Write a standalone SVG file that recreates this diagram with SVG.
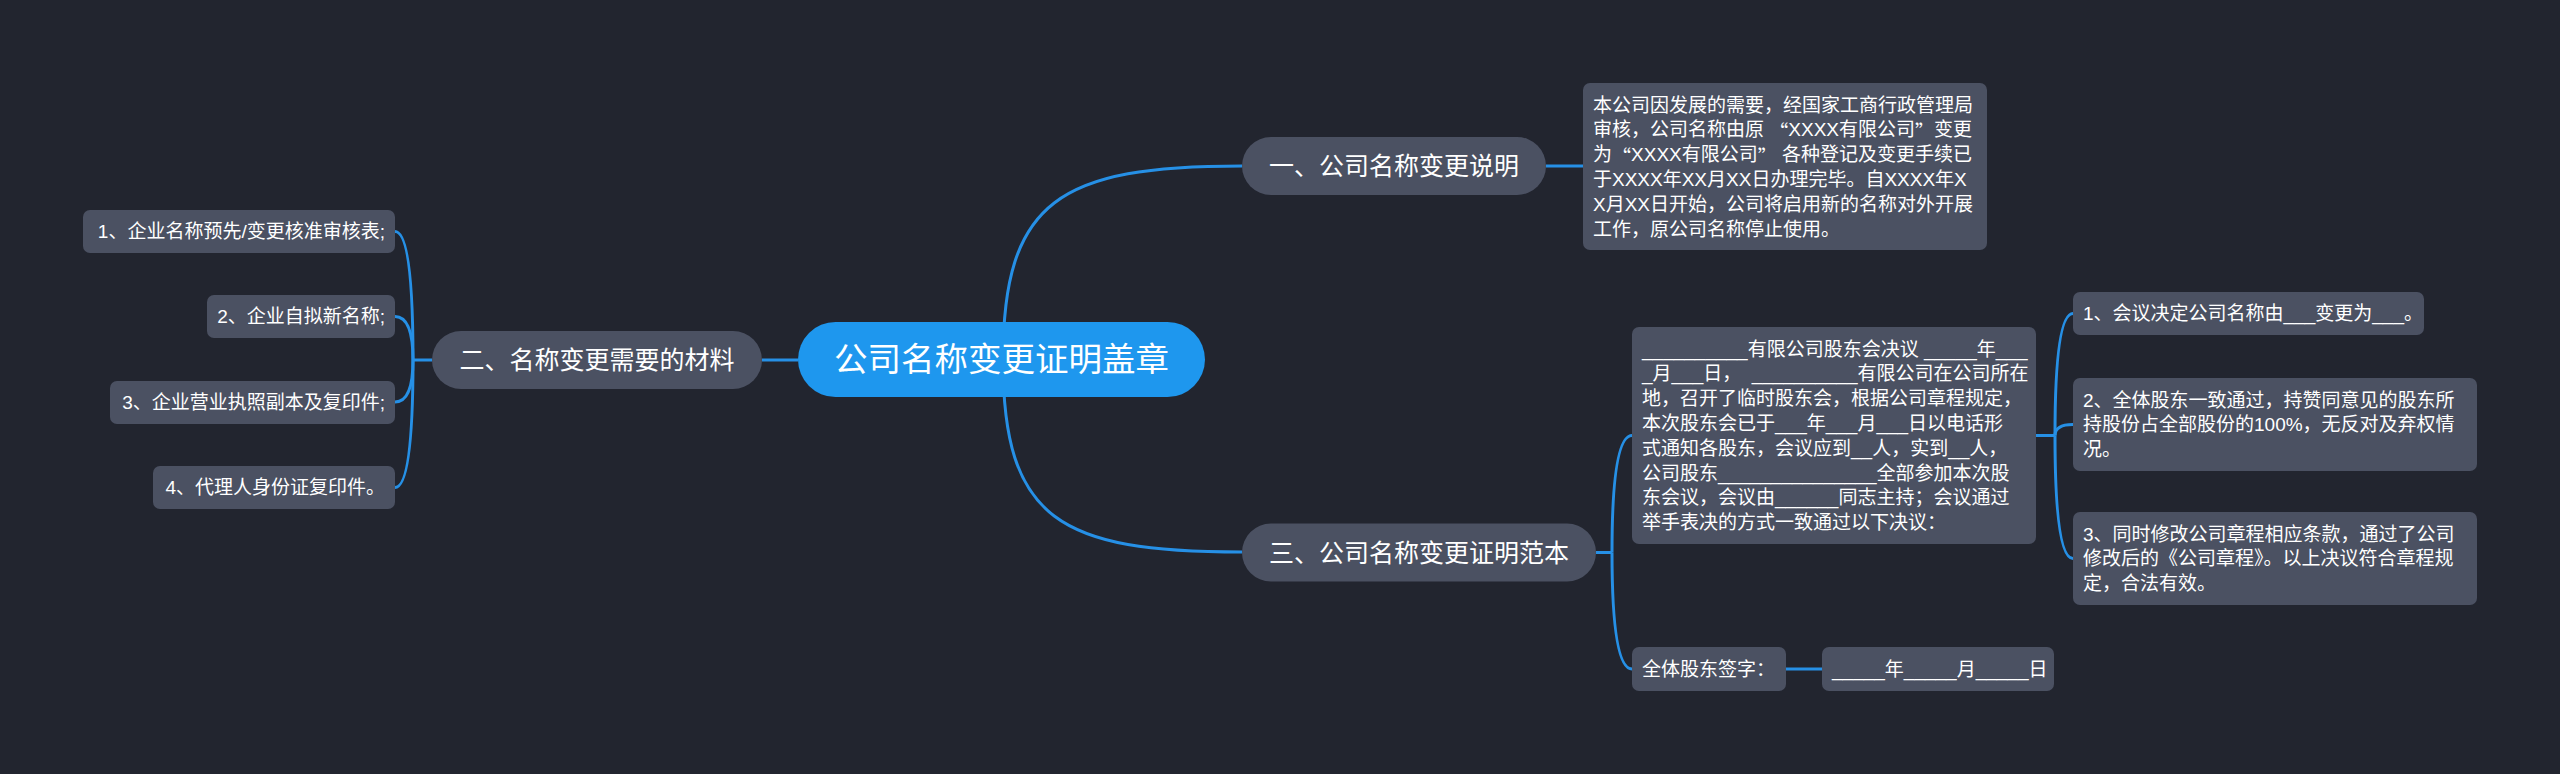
<svg xmlns="http://www.w3.org/2000/svg" width="2560" height="774" viewBox="0 0 2560 774">
<style>
.bg{fill:#22252f}
.node{fill:#4b5162}
.root{fill:#1e97ee}
.link{fill:none;stroke:#2690e6;stroke-width:3}
text{font-family:"Liberation Sans","Noto Sans CJK SC",sans-serif;fill:#ffffff;dominant-baseline:central;white-space:pre}
.t33{font-size:33.5px;text-anchor:middle}
.t25{font-size:25px;text-anchor:middle}
.t19{font-size:19px}
.end{text-anchor:end}
.cq{font-family:"Noto Sans CJK SC",sans-serif}
</style>
<rect class="bg" x="0" y="0" width="2560" height="774"/>
<g id="connectors">
<path class="link" d="M1003 360 C1003 200 1060 166 1242 166"/>
<path class="link" d="M1003 360 C1003 520 1060 552 1242 552"/>
<path class="link" d="M798 360 L762 360"/>
<path class="link" d="M1546 166 L1583 166"/>
<path class="link" d="M432 360 L413 360"/>
<path class="link" d="M413 360 Q413 231.5 395 231.5"/>
<path class="link" d="M413 360 Q413 316.5 395 316.5"/>
<path class="link" d="M413 360 Q413 402 395 402"/>
<path class="link" d="M413 360 Q413 487.5 395 487.5"/>
<path class="link" d="M1596 552.5 L1612 552.5"/>
<path class="link" d="M1612 552.5 Q1612 435.5 1632 435.5"/>
<path class="link" d="M1612 552.5 Q1612 669 1632 669"/>
<path class="link" d="M1786 669 L1822 669"/>
<path class="link" d="M2036 435.5 L2055 435.5"/>
<path class="link" d="M2055 435.5 Q2055 313.5 2073 313.5"/>
<path class="link" d="M2055 435.5 Q2055 424.5 2073 424.5"/>
<path class="link" d="M2055 435.5 Q2055 558.5 2073 558.5"/>
</g>
<g id="root">
<rect class="root" x="798" y="322" width="407" height="75" rx="37.5"/>
<text class="t33" x="1001.5" y="359.5">公司名称变更证明盖章</text>
</g>
<g id="b1">
<rect class="node" x="1242" y="137" width="304" height="58" rx="29"/>
<text class="t25" x="1394" y="166">一、公司名称变更说明</text>
</g>
<g id="b1d">
<rect class="node" x="1583" y="83" width="404" height="167" rx="7"/>
<text class="t19" x="1593" y="105">本公司因发展的需要，经国家工商行政管理局</text>
<text class="t19" x="1593" y="129.8">审核，公司名称由原 <tspan class="cq">“</tspan>XXXX有限公司<tspan class="cq">”</tspan>变更</text>
<text class="t19" x="1593" y="154.6">为<tspan class="cq">“</tspan>XXXX有限公司<tspan class="cq">”</tspan> 各种登记及变更手续已</text>
<text class="t19" x="1593" y="179.4">于XXXX年XX月XX日办理完毕。自XXXX年X</text>
<text class="t19" x="1593" y="204.2">X月XX日开始，公司将启用新的名称对外开展</text>
<text class="t19" x="1593" y="229">工作，原公司名称停止使用。</text>
</g>
<g id="b2">
<rect class="node" x="432" y="331" width="330" height="58" rx="29"/>
<text class="t25" x="597" y="360">二、名称变更需要的材料</text>
</g>
<g id="l1">
<rect class="node" x="83" y="210" width="312" height="43" rx="7"/>
<text class="t19 end" x="385" y="231.5">1、企业名称预先/变更核准审核表;</text>
</g>
<g id="l2">
<rect class="node" x="207" y="295" width="188" height="43" rx="7"/>
<text class="t19 end" x="385" y="316.5">2、企业自拟新名称;</text>
</g>
<g id="l3">
<rect class="node" x="110" y="381" width="285" height="43" rx="7"/>
<text class="t19 end" x="385" y="402.5">3、企业营业执照副本及复印件;</text>
</g>
<g id="l4">
<rect class="node" x="153" y="466" width="242" height="43" rx="7"/>
<text class="t19 end" x="385" y="487.5">4、代理人身份证复印件。</text>
</g>
<g id="b3">
<rect class="node" x="1242" y="523.5" width="354" height="58" rx="29"/>
<text class="t25" x="1419" y="552.5">三、公司名称变更证明范本</text>
</g>
<g id="b3d">
<rect class="node" x="1632" y="327" width="404" height="217" rx="7"/>
<text class="t19" x="1642" y="349">__________有限公司股东会决议 _____年___</text>
<text class="t19" x="1642" y="373.8">_月___日，  __________有限公司在公司所在</text>
<text class="t19" x="1642" y="398.6">地，召开了临时股东会，根据公司章程规定，</text>
<text class="t19" x="1642" y="423.4">本次股东会已于___年___月___日以电话形</text>
<text class="t19" x="1642" y="448.2">式通知各股东，会议应到__人，实到__人，</text>
<text class="t19" x="1642" y="473">公司股东_______________全部参加本次股</text>
<text class="t19" x="1642" y="497.8">东会议，会议由______同志主持；会议通过</text>
<text class="t19" x="1642" y="522.6">举手表决的方式一致通过以下决议：</text>
</g>
<g id="i1">
<rect class="node" x="2073" y="292" width="351" height="43" rx="7"/>
<text class="t19" x="2083" y="313.5">1、会议决定公司名称由___变更为___。</text>
</g>
<g id="i2">
<rect class="node" x="2073" y="378" width="404" height="93" rx="7"/>
<text class="t19" x="2083" y="400">2、全体股东一致通过，持赞同意见的股东所</text>
<text class="t19" x="2083" y="424.8">持股份占全部股份的100%，无反对及弃权情</text>
<text class="t19" x="2083" y="449.6">况。</text>
</g>
<g id="i3">
<rect class="node" x="2073" y="512" width="404" height="93" rx="7"/>
<text class="t19" x="2083" y="534">3、同时修改公司章程相应条款，通过了公司</text>
<text class="t19" x="2083" y="558.8">修改后的《公司章程》。以上决议符合章程规</text>
<text class="t19" x="2083" y="583.6">定，合法有效。</text>
</g>
<g id="sig">
<rect class="node" x="1632" y="647" width="154" height="44" rx="7"/>
<text class="t19" x="1642" y="669">全体股东签字：</text>
</g>
<g id="date">
<rect class="node" x="1822" y="647" width="232" height="44" rx="7"/>
<text class="t19" x="1832" y="669">_____年_____月_____日</text>
</g>
</svg>
